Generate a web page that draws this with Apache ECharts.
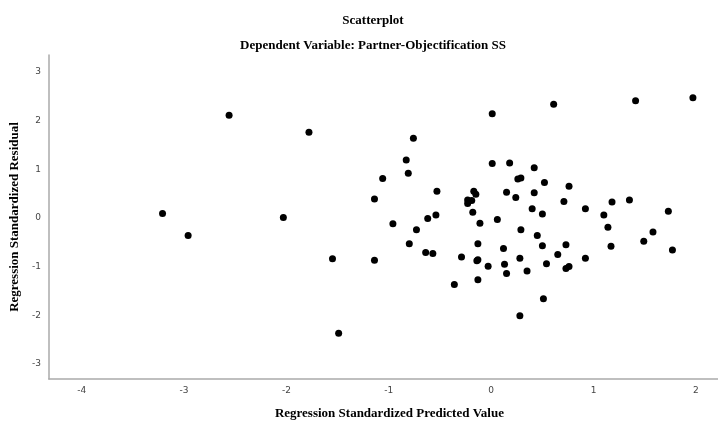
<!DOCTYPE html>
<html>
<head>
<meta charset="utf-8">
<script src="https://cdn.jsdelivr.net/npm/echarts@6/dist/echarts.min.js"></script>
<style>
html,body{margin:0;padding:0;background:#fff;}
#c{width:718px;height:425px;}
</style>
</head>
<body>
<div id="c"></div>
<script>
// Regression standardized predicted values (x)
var predicted = [
  -3.21, -2.96, -2.56, -2.03, -1.78, -1.55, -1.49,
  -0.76, -0.83, -0.81, -1.06, -1.14, 0.01, 0.18, 0.42, 0.26, 0.29, 0.52,
  -0.53, -0.17, -0.15, 0.15, 0.24, 0.42, -0.23, -0.19, -0.23, -0.18, 0.40, 0.50,
  -0.54, -0.62, -0.96, -0.73, -0.11, 0.06, 0.29, 0.45, -0.80, -0.13, 0.50, 0.12,
  -0.64, -0.57, 0.65, -1.14, -0.29, -0.14, -0.13, 0.28, 0.13, 0.54, -0.03, 0.15,
  0.35, -0.36, -0.13, 0.51, 0.28,
  0.01, 0.61, 1.41, 1.97,
  0.76, 0.71, 0.92, 1.18, 1.35, 1.10, 1.14, 1.73, 1.58, 1.49, 0.73, 1.17, 1.77,
  0.92, 0.73, 0.76
];
// Regression standardized residuals (y)
var residual = [
  0.09, -0.36, 2.11, 0.01, 1.76, -0.84, -2.37,
  1.64, 1.19, 0.92, 0.81, 0.39, 1.12, 1.13, 1.03, 0.80, 0.82, 0.73,
  0.55, 0.55, 0.49, 0.53, 0.42, 0.52, 0.37, 0.36, 0.30, 0.12, 0.19, 0.08,
  0.06, -0.01, -0.12, -0.24, -0.11, -0.03, -0.24, -0.36, -0.53, -0.53, -0.57, -0.63,
  -0.71, -0.73, -0.75, -0.87, -0.80, -0.88, -0.86, -0.83, -0.95, -0.94, -0.99, -1.14,
  -1.09, -1.37, -1.27, -1.66, -2.01,
  2.14, 2.34, 2.41, 2.47,
  0.65, 0.34, 0.19, 0.33, 0.37, 0.06, -0.19, 0.14, -0.29, -0.48, -0.55, -0.58, -0.66,
  -0.83, -1.04, -1.00
];
var titleText = 'Scatterplot';
var subtitleText = 'Dependent Variable: Partner-Objectification SS';
var xName = 'Regression Standardized Predicted Value';
var yName = 'Regression Standardized Residual';

var points = predicted.map(function (x, i) { return [x, residual[i]]; });

var chart = echarts.init(document.getElementById('c'), null, {renderer: 'canvas'});
var serif = '"Liberation Serif", "Times New Roman", serif';
var labelStyle = {fontFamily: '"DejaVu Sans", sans-serif', fontSize: 9, color: '#444'};
chart.setOption({
  animation: false,
  backgroundColor: '#fff',
  title: [
    {text: titleText, left: 368, top: 9, textAlign: 'center',
     textStyle: {fontFamily: serif, fontSize: 13, fontWeight: 'bold', color: '#000'}},
    {text: subtitleText, left: 368, top: 34, textAlign: 'center',
     textStyle: {fontFamily: serif, fontSize: 13, fontWeight: 'bold', color: '#000'}}
  ],
  grid: {left: 48, top: 55, right: 0, bottom: 40, containLabel: false},
  xAxis: {
    type: 'value', min: -4.32, max: 2.215, splitNumber: 7,
    name: xName, nameLocation: 'middle', nameGap: 28,
    nameTextStyle: {fontFamily: serif, fontSize: 13, fontWeight: 'bold', color: '#000', padding: [0, 0, 0, 12]},
    axisLine: {show: true, onZero: false, lineStyle: {color: '#aaaaaa', width: 1.5}},
    axisTick: {show: false},
    splitLine: {show: false},
    axisLabel: Object.assign({margin: 7, showMinLabel: false, showMaxLabel: false}, labelStyle)
  },
  yAxis: {
    type: 'value', min: -3.31, max: 3.35, splitNumber: 7,
    name: yName, nameLocation: 'middle', nameGap: 27,
    nameTextStyle: {fontFamily: serif, fontSize: 13, fontWeight: 'bold', color: '#000'},
    axisLine: {show: true, onZero: false, lineStyle: {color: '#aaaaaa', width: 1.5}},
    axisTick: {show: false},
    splitLine: {show: false},
    axisLabel: Object.assign({margin: 8, showMinLabel: false, showMaxLabel: false}, labelStyle)
  },
  series: [{
    type: 'scatter',
    data: points,
    symbol: 'circle',
    symbolSize: 7,
    itemStyle: {color: '#000', opacity: 1}
  }]
});
</script>
</body>
</html>
